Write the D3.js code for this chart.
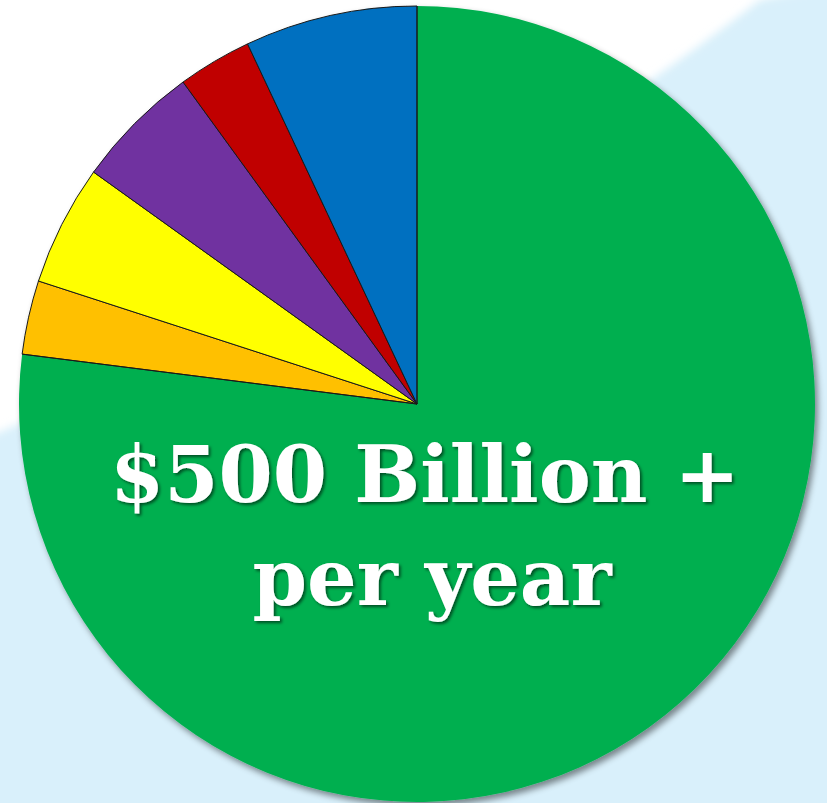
<!DOCTYPE html>
<html>
<head>
<meta charset="utf-8">
<script src="https://cdn.jsdelivr.net/npm/d3@7"></script>
<style>
  html, body { margin: 0; padding: 0; background: #ffffff; overflow: hidden; }
  svg { display: block; }
</style>
</head>
<body>
<svg id="chart" width="827" height="803"></svg>
<script>
// ---- data (clockwise from 12 o'clock) ----
const categories = ["Main", "Orange", "Yellow", "Purple", "Red", "Blue"];
const values     = [77.0, 3.0, 4.9, 5.1, 3.0, 7.0];
const colors     = ["#00AF50", "#FFC000", "#FFFF00", "#7030A0", "#C00000", "#0070C0"];
const labelLines = ["$500 Billion +", "per year"];

const W = 827, H = 803;
const cx = 417, cy = 404, R = 398;

const svg = d3.select("#chart");
const defs = svg.append("defs");

const bgBlur = defs.append("filter").attr("id", "bgblur")
  .attr("x", "-10%").attr("y", "-10%").attr("width", "120%").attr("height", "120%");
bgBlur.append("feGaussianBlur").attr("stdDeviation", 4);

const shadow = defs.append("filter").attr("id", "pieshadow")
  .attr("x", "-10%").attr("y", "-10%").attr("width", "120%").attr("height", "120%");
shadow.append("feDropShadow").attr("dx", 3).attr("dy", 4)
  .attr("stdDeviation", 3).attr("flood-color", "#000").attr("flood-opacity", 0.45);

const tshadow = defs.append("filter").attr("id", "textshadow")
  .attr("x", "-10%").attr("y", "-20%").attr("width", "120%").attr("height", "140%");
tshadow.append("feDropShadow").attr("dx", 2).attr("dy", 2)
  .attr("stdDeviation", 1.5).attr("flood-color", "#000").attr("flood-opacity", 0.55);

// background
svg.append("rect").attr("width", W).attr("height", H).attr("fill", "#ffffff");
svg.append("path")
  .attr("d", "M-20,440 L0,432 Q450,240 760,0 L860,-20 L860,840 L-20,840 Z")
  .attr("fill", "#D9F0FB")
  .attr("filter", "url(#bgblur)");

// pie
const pie = d3.pie().sort(null).value(d => d.value).startAngle(0).endAngle(2 * Math.PI);
const arc = d3.arc().innerRadius(0).outerRadius(R);
const data = categories.map((c, i) => ({ category: c, value: values[i], color: colors[i] }));

const g = svg.append("g").attr("transform", `translate(${cx},${cy})`);
const gPie = g.append("g").attr("filter", "url(#pieshadow)");

gPie.selectAll("path.slice")
  .data(pie(data))
  .join("path")
  .attr("class", "slice")
  .attr("d", arc)
  .attr("fill", d => d.data.color)
  .attr("stroke", (d, i) => i === 0 ? "none" : "#1a1a1a")
  .attr("stroke-width", 1)
  .attr("stroke-linejoin", "round");

const arcs = pie(data);
const edgeAngles = [arcs[0].startAngle, arcs[0].endAngle];
g.selectAll("line.edge")
  .data(edgeAngles)
  .join("line")
  .attr("class", "edge")
  .attr("x1", 0).attr("y1", 0)
  .attr("x2", a => R * Math.sin(a))
  .attr("y2", a => -R * Math.cos(a))
  .attr("stroke", "#1a1a1a")
  .attr("stroke-width", 1);

// label
const label = svg.append("g").attr("filter", "url(#textshadow)");
const lineCenters = [[425, 502], [432, 605]];
label.selectAll("text")
  .data(labelLines)
  .join("text")
  .attr("x", (d, i) => lineCenters[i][0])
  .attr("y", (d, i) => lineCenters[i][1])
  .attr("text-anchor", "middle")
  .attr("font-family", "'DejaVu Serif', 'Liberation Serif', serif")
  .attr("font-weight", "bold")
  .attr("font-size", 78)
  .attr("fill", "#ffffff")
  .text(d => d);
</script>
</body>
</html>
